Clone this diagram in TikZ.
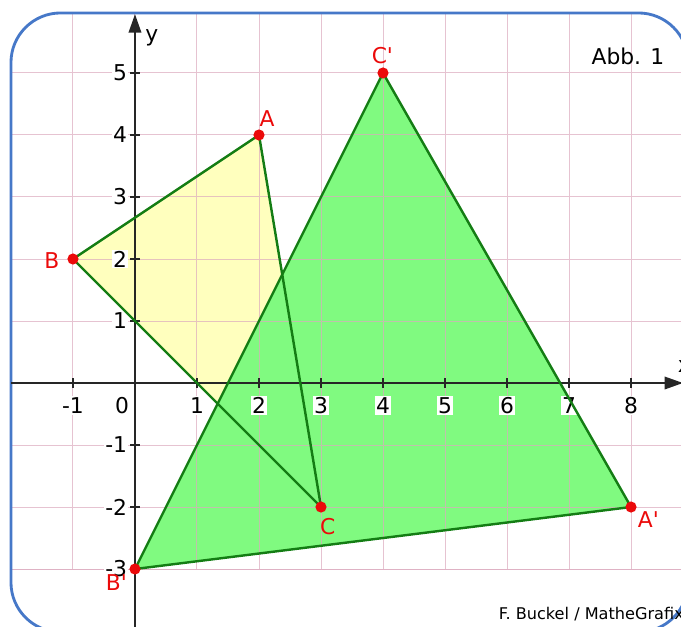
\documentclass[tikz,border=0pt]{standalone}
\usepackage{fontspec}
\setmainfont{DejaVu Sans}
\usetikzlibrary{arrows.meta}
\definecolor{gridpink}{RGB}{220,170,190}
\definecolor{fillgreen}{RGB}{128,250,128}
\definecolor{fillyellow}{RGB}{255,255,190}
\definecolor{edgegreen}{RGB}{20,125,20}
\definecolor{ptred}{RGB}{235,10,10}
\definecolor{frameblue}{RGB}{70,120,200}
\tikzset{
  edge/.style={draw=edgegreen, line width=1.1pt, line join=round},
  pt/.style={circle, fill=ptred, inner sep=0pt, minimum size=0.18cm},
  ptlabel/.style={text=ptred, font=\fontsize{10}{12}\selectfont, inner sep=0pt},
  ticklab/.style={fill=white, inner sep=0.6pt, font=\fontsize{10}{12}\selectfont},
  axis/.style={line width=1.1pt, draw=black!85},
}
\begin{document}
\begin{tikzpicture}
\useasboundingbox (-2.177,-3.935) rectangle (8.806,6.177);
\clip (-2.177,-3.935) rectangle (8.806,6.177);
% points
\coordinate (A) at (2,4);
\coordinate (B) at (-1,2);
\coordinate (C) at (3,-2);
\coordinate (A') at (8,-2);
\coordinate (B') at (0,-3);
\coordinate (C') at (4,5);
% fills
\fill[fillyellow] (A) -- (B) -- (C) -- cycle;
\fill[fillgreen] (A') -- (B') -- (C') -- cycle;
% grid
\begin{scope}
\clip[rounded corners=0.8cm] (-2.0,-4.016) rectangle (8.92,5.968);
\draw[gridpink, line width=0.45pt, opacity=0.7] (-2.2,-3) grid (9,5.999);
\draw[gridpink, line width=0.45pt, opacity=0.7] (-2.2,-3.001) -- (9,-3.001);
\end{scope}
% frame
\draw[frameblue, line width=1.3pt, rounded corners=0.8cm] (-2.0,-4.016) rectangle (8.92,5.968);
% axes
\coordinate (xs) at (-2.0,0);
\coordinate (xe) at (8.84,0);
\coordinate (ys) at (0,-4.0);
\coordinate (ye) at (0,5.95);
\draw[axis, -{Triangle[length=0.3cm, width=0.2cm]}] (xs) -- (xe);
\draw[axis, -{Triangle[length=0.3cm, width=0.2cm]}] (ys) -- (ye);
\foreach \i in {-1,1,2,3,4,5,6,7,8} {
  \draw[axis, line width=0.9pt] (\i,-0.08) -- (\i,0.08);
  \node[ticklab] (xl\i) at (\i,-0.36) {\i};
}
\foreach \i in {-3,-2,-1,1,2,3,4,5} {
  \draw[axis, line width=0.9pt] (-0.08,\i) -- (0.08,\i);
  \node[ticklab, anchor=east] (yl\i) at (-0.1,\i) {\i};
}
\node[ticklab] (zero) at (-0.21,-0.36) {0};
\node[font=\fontsize{10}{12}\selectfont, inner sep=0pt] (ylab) at (0.27,5.56) {y};
\node[font=\fontsize{10}{12}\selectfont, inner sep=0pt] (xlab) at (8.86,0.27) {x};
% edges
\draw[edge] (A) -- (B) -- (C) -- cycle;
\draw[edge] (A') -- (B') -- (C') -- cycle;
% dots
\foreach \p in {A,B,C,A',B',C'} \node[pt] (d\p) at (\p) {};
% point labels
\node[ptlabel] (lA) at (2.13,4.27) {A};
\node[ptlabel] (lB) at (-1.34,1.97) {B};
\node[ptlabel] (lC) at (3.11,-2.32) {C};
\node[ptlabel] (lA') at (8.28,-2.2) {A\textquotesingle};
\node[ptlabel] (lB') at (-0.3,-3.22) {B\textquotesingle};
\node[ptlabel] (lC') at (3.99,5.28) {C\textquotesingle};
% captions
\node[font=\fontsize{10}{12}\selectfont, inner sep=0pt] (abb) at (7.95,5.27) {Abb. 1};
\node[font=\fontsize{7.4}{9}\selectfont, inner sep=0pt] (credit) at (7.36,-3.72) {F. Buckel / MatheGrafix};
\end{tikzpicture}
\end{document}
